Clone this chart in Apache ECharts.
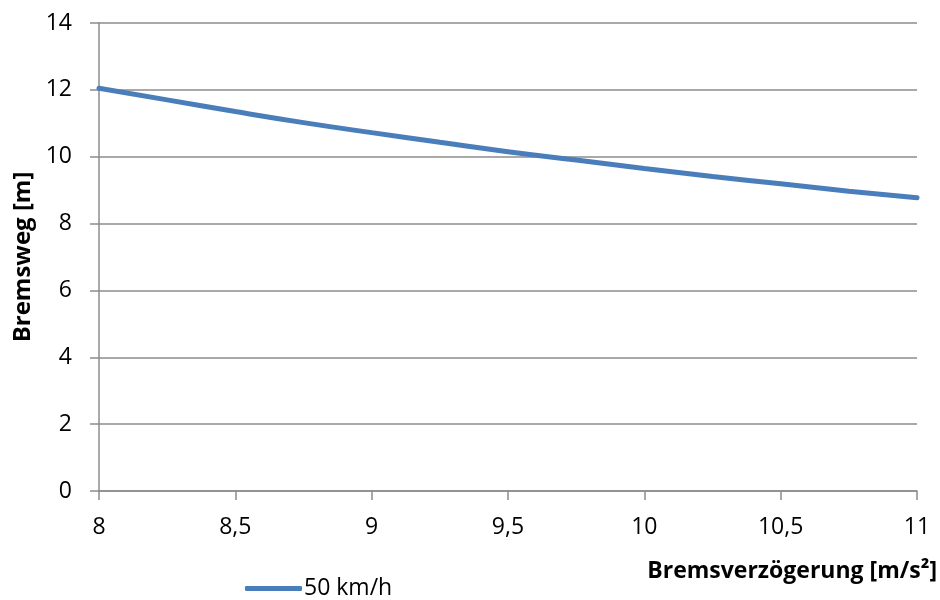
<!DOCTYPE html>
<html>
<head>
<meta charset="utf-8">
<script src="https://cdn.jsdelivr.net/npm/echarts@6/dist/echarts.min.js"></script>
<style>
  html, body { margin: 0; padding: 0; background: #fff; }
  #chart { width: 940px; height: 600px; }
</style>
</head>
<body>
<div id="chart"></div>
<script>
// Bremsverzögerung [m/s²] vs. Bremsweg [m]
const decel = [8, 8.25, 8.5, 8.75, 9, 9.25, 9.5, 9.75, 10, 10.25, 10.5, 10.75, 11];
const distance50 = [12.05, 11.7, 11.35, 11.02, 10.72, 10.43, 10.15, 9.9, 9.65, 9.41, 9.19, 8.97, 8.77];
const seriesName = '50 km/h';

const FONT = '"Open Sans", "Liberation Sans", sans-serif';
const gridGray = '#8c8c8c';
const lineBlue = '#4a7ebb';

const chart = echarts.init(document.getElementById('chart'));
chart.setOption({
    animation: false,
    textStyle: { fontFamily: FONT },
    grid: { left: 99, right: 23, top: 23, bottom: 109 },
    legend: {
        data: [{ name: seriesName, icon: 'roundRect' }],
        left: 240,
        top: 572,
        itemWidth: 57,
        itemHeight: 5,
        itemGap: 4,
        itemStyle: { color: lineBlue },
        textStyle: { fontSize: 23, color: '#000', fontFamily: FONT, padding: [0, 0, 0, -3] }
    },
    xAxis: {
        type: 'value',
        min: 8, max: 11, interval: 0.5,
        name: 'Bremsverzögerung [m/s²]',
        nameLocation: 'end',
        nameGap: 20,
        nameTextStyle: {
            fontSize: 23, fontWeight: 'bold', color: '#000',
            align: 'right', verticalAlign: 'top', padding: [69, 0, 0, 0]
        },
        axisLine: { show: true, lineStyle: { color: gridGray, width: 1.5 } },
        axisTick: { show: true, length: 9, lineStyle: { color: gridGray, width: 1.5 } },
        axisLabel: {
            fontSize: 23, color: '#000', margin: 25,
            formatter: v => String(v).replace('.', ',')
        },
        splitLine: { show: false }
    },
    yAxis: {
        type: 'value',
        min: 0, max: 14, interval: 2,
        name: 'Bremsweg [m]',
        nameLocation: 'middle',
        nameGap: 62,
        nameTextStyle: { fontSize: 24, fontWeight: 'bold', color: '#000' },
        axisLine: { show: true, lineStyle: { color: gridGray, width: 1.5 } },
        axisTick: { show: true, length: 9, lineStyle: { color: gridGray, width: 1.5 } },
        axisLabel: { fontSize: 23, color: '#000', margin: 27 },
        splitLine: { show: true, lineStyle: { color: gridGray, width: 1.5 } }
    },
    series: [{
        name: seriesName,
        type: 'line',
        smooth: true,
        symbol: 'none',
        data: decel.map((x, i) => [x, distance50[i]]),
        lineStyle: { color: lineBlue, width: 5, cap: 'round' },
        itemStyle: { color: lineBlue }
    }]
});
</script>
</body>
</html>
